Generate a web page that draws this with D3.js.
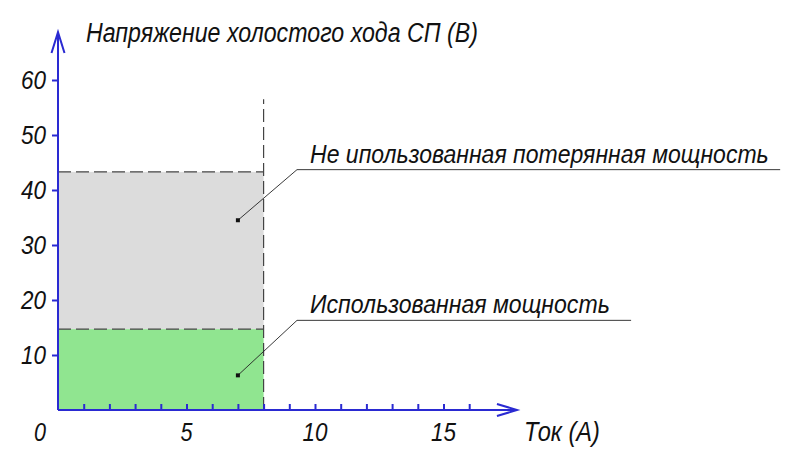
<!DOCTYPE html>
<html>
<head>
<meta charset="utf-8">
<script src="https://cdn.jsdelivr.net/npm/d3@7"></script>
<style>
  body { margin: 0; background: #fff; }
  text { font-family: "Liberation Sans Narrow", "Liberation Sans", sans-serif; font-style: italic; fill: #111; }
</style>
</head>
<body>
<div id="container"></div>
<script>
// ---------------------
// DATA
// ---------------------
const x_ticks = d3.range(0, 17);           // minor ticks on current axis
const x_labels = [0, 5, 10, 15];
const y_ticks = [10, 20, 30, 40, 50, 60];
const current_limit = [8];                  // A, vertical dashed boundary
const voltage_levels = [14.7, 43.3];        // used / open-circuit voltage
const boundary_top = [56.5];                // top of the vertical dashed line
const callouts = [
  { label: 'Не ипользованная потерянная мощность', at: [7, 34.5], shelf: 43.7, end: 28.1, len: 459 },
  { label: 'Использованная мощность', at: [7, 6.3], shelf: 16.3, end: 22.3, len: 300 }
];

const width = 800, height = 466;
const blue = '#2a2ad2';

const svg = d3.select('#container')
              .append('svg')
              .attr('width', width)
              .attr('height', height);

const x = d3.scaleLinear().domain([0, 17.86]).range([58, 517]);
const y = d3.scaleLinear().domain([0, 60]).range([410, 80]);

// squeeze a text horizontally to a given width (GOST-like narrow lettering)
function condense (sel, px, py, len, anchor) {
  sel.attr('x', 0).attr('y', 0).attr('text-anchor', 'start');
  const w = sel.node().getComputedTextLength();
  const k = len / w;
  const x0 = anchor === 'middle' ? px - len / 2 : anchor === 'end' ? px - len : px;
  sel.attr('transform', `translate(${x0},${py}) scale(${k},1)`);
}

// ---------------------
// AREAS
// ---------------------
svg.append('rect')
   .attr('x', x(0))
   .attr('y', y(voltage_levels[1]))
   .attr('width', x(current_limit[0]) - x(0))
   .attr('height', y(voltage_levels[0]) - y(voltage_levels[1]))
   .attr('fill', '#dcdcdc');

svg.append('rect')
   .attr('x', x(0))
   .attr('y', y(voltage_levels[0]))
   .attr('width', x(current_limit[0]) - x(0))
   .attr('height', y(0) - y(voltage_levels[0]))
   .attr('fill', '#90e590');

// dashed boundaries
const dash = '13,5';
svg.selectAll('.hdash')
   .data(voltage_levels)
   .enter()
   .append('line')
   .attr('x1', x(0))
   .attr('x2', x(current_limit[0]))
   .attr('y1', d => y(d))
   .attr('y2', d => y(d))
   .attr('stroke', '#444')
   .attr('stroke-width', 1.2)
   .attr('stroke-dasharray', dash);

svg.append('line')
   .attr('x1', x(current_limit[0]))
   .attr('x2', x(current_limit[0]))
   .attr('y1', y(0))
   .attr('y2', y(boundary_top[0]))
   .attr('stroke', '#444')
   .attr('stroke-width', 1.2)
   .attr('stroke-dasharray', dash);

// ---------------------
// AXES
// ---------------------
const axis_y = d3.axisLeft(y).tickValues(y_ticks).tickSize(6).tickPadding(6).tickFormat('');
const gy = svg.append('g').attr('transform', `translate(${x(0)},0)`).call(axis_y);
gy.select('.domain').remove();
gy.selectAll('line').attr('stroke', blue).attr('stroke-width', 2);

svg.selectAll('.ylab')
   .data(y_ticks)
   .enter()
   .append('text')
   .attr('font-size', 26)
   .attr('dy', '0.36em')
   .text(d => d)
   .each(function (d) { condense(d3.select(this), x(0) - 12, y(d), 25, 'end'); });

const axis_x = d3.axisBottom(x).tickValues(x_ticks.slice(1)).tickSize(-6).tickFormat('');
const gx = svg.append('g').attr('transform', `translate(0,${y(0)})`).call(axis_x);
gx.select('.domain').remove();
gx.selectAll('line').attr('stroke', blue).attr('stroke-width', 2);

// axis lines with open arrows
svg.append('line')
   .attr('x1', x(0)).attr('y1', y(0))
   .attr('x2', x(0)).attr('y2', y(68.7))
   .attr('stroke', blue).attr('stroke-width', 2);
svg.append('path')
   .attr('d', `M${x(0) - 6.5},${y(64.9)}L${x(0)},${y(68.7)}L${x(0) + 6.5},${y(64.9)}`)
   .attr('fill', 'none').attr('stroke', blue).attr('stroke-width', 2);

svg.append('line')
   .attr('x1', x(0)).attr('y1', y(0))
   .attr('x2', x(17.86)).attr('y2', y(0))
   .attr('stroke', blue).attr('stroke-width', 2);
svg.append('path')
   .attr('d', `M${x(17.08)},${y(1.1)}L${x(17.86)},${y(0)}L${x(17.08)},${y(-1.1)}`)
   .attr('fill', 'none').attr('stroke', blue).attr('stroke-width', 2);

// x labels
svg.selectAll('.xlab')
   .data(x_labels)
   .enter()
   .append('text')
   .attr('font-size', 26)
   .text(d => d)
   .each(function (d) {
     condense(d3.select(this), d === 0 ? x(d) - 18 : x(d), 441, d < 10 ? 12 : 25, 'middle');
   });

// axis titles
svg.append('text')
   .attr('font-size', 27)
   .text('Напряжение холостого хода СП (В)')
   .call(condense, 86, 42, 392, 'start');

svg.append('text')
   .attr('font-size', 27)
   .text('Ток (А)')
   .call(condense, 524, 441, 76, 'start');

// ---------------------
// CALLOUTS
// ---------------------
const shelf_x0 = 9.3;
callouts.forEach(c => {
  const g = svg.append('g');
  g.append('path')
   .attr('d', `M${x(c.at[0])},${y(c.at[1])}L${x(shelf_x0)},${y(c.shelf)}L${x(c.end)},${y(c.shelf)}`)
   .attr('fill', 'none')
   .attr('stroke', '#222')
   .attr('stroke-width', 0.9);
  g.append('rect')
   .attr('x', x(c.at[0]) - 2)
   .attr('y', y(c.at[1]) - 2)
   .attr('width', 4)
   .attr('height', 4)
   .attr('fill', '#111');
  g.append('text')
   .attr('font-size', 26)
   .text(c.label)
   .call(condense, x(shelf_x0) + 13, y(c.shelf) - 7, c.len, 'start');
});
</script>
</body>
</html>
